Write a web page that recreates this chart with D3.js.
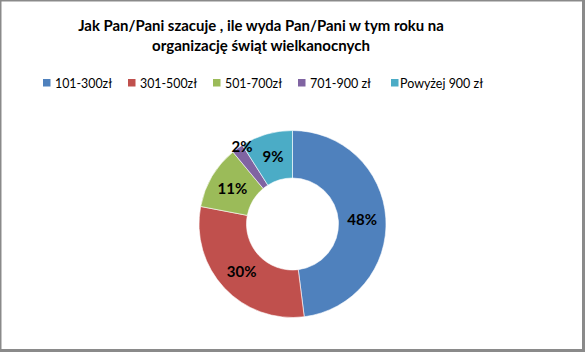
<!DOCTYPE html>
<html><head><meta charset="utf-8">
<script src="https://cdn.jsdelivr.net/npm/d3@7"></script>
<style>html,body{margin:0;padding:0;background:#fff;}svg{display:block;}</style>
</head><body>
<svg id="c" width="585" height="352"></svg>
<script>
const categories = ["101-300zł","301-500zł","501-700zł","701-900 zł","Powyżej 900 zł"];
const values = [48, 30, 11, 2, 9];
const colors = ["#4F81BD","#C0504D","#9BBB59","#8064A2","#4BACC6"];
const titleLines = ["Jak Pan/Pani szacuje , ile wyda Pan/Pani w tym roku na","organizację świąt wielkanocnych"];

const svg = d3.select("#c");
const FONT = "Lato, 'Open Sans', sans-serif";

// frame
svg.append("rect").attr("width",585).attr("height",352).attr("fill","#8a8a8a");
svg.append("rect").attr("x",1.5).attr("y",1.5).attr("width",580.5).attr("height",347.5).attr("fill","#fff");

function fit(sel, target){
  const w = sel.node().getComputedTextLength();
  const fs = parseFloat(sel.attr("font-size"));
  sel.attr("font-size", fs*target/w);
}

// title
const tw = [366, 218];
titleLines.forEach((t,i)=>{
  const s = svg.append("text").attr("x",261).attr("y",31+i*20)
    .attr("text-anchor","middle").attr("font-family",FONT).attr("font-weight","bold")
    .attr("font-size",15).attr("fill","#000").text(t);
  fit(s, tw[i]);
});

// legend
const legSq = [43,128,213,298,391];
const legTx = [55,140,225,310,400];
const legW = [57,57,57,61,83];
const lg = svg.append("g");
categories.forEach((c,i)=>{
  lg.append("rect").attr("x",legSq[i]).attr("y",79).attr("width",7.5).attr("height",7.5).attr("fill",colors[i]);
  const s = lg.append("text").attr("x",legTx[i]).attr("y",88).attr("font-family",FONT)
    .attr("font-size",13.5).attr("fill","#000").text(c);
  const w = s.node().getComputedTextLength();
  if (w > legW[i]) s.attr("textLength",legW[i]).attr("lengthAdjust","spacingAndGlyphs");
});

// donut
const cx = 292.5, cy = 224, R = 93.5, r = 46;
const pie = d3.pie().sort(null).value(d=>d)(values);
const arc = d3.arc().innerRadius(r).outerRadius(R);
const g = svg.append("g").attr("transform",`translate(${cx},${cy})`);
g.selectAll("path").data(pie).join("path")
  .attr("d",arc).attr("fill",(d,i)=>colors[i]).attr("stroke","#fff").attr("stroke-width",0.6);

// labels
const labelArc = d3.arc().innerRadius((r+R)/2).outerRadius((r+R)/2);
g.selectAll("text.lbl").data(pie).join("text").attr("class","lbl")
  .attr("transform",(d,i)=>{
    let [x,y] = labelArc.centroid(d);
    if(i===3){ x = 242-cx; y = 147-cy; }
    return `translate(${x},${y})`;
  })
  .attr("text-anchor","middle").attr("dy","0.36em")
  .attr("font-family",FONT).attr("font-weight","bold").attr("font-size",15).attr("fill","#000")
  .text(d=>d.value+"%");
</script>
</body></html>
